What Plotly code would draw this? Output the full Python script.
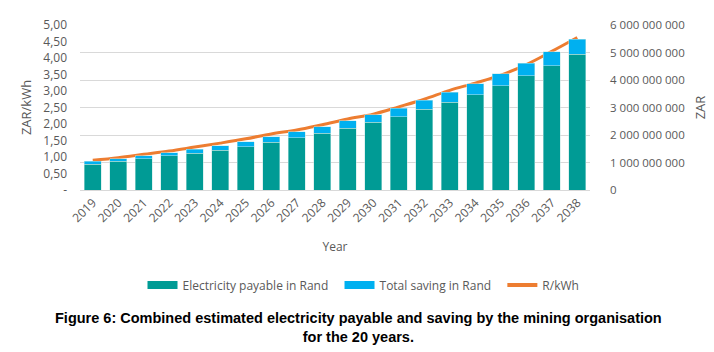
import plotly.graph_objects as go

years = [str(y) for y in range(2019, 2039)]
payable = [0.945e9, 1.05e9, 1.13e9, 1.24e9, 1.33e9, 1.45e9, 1.58e9, 1.73e9, 1.90e9, 2.06e9,
           2.25e9, 2.46e9, 2.67e9, 2.93e9, 3.19e9, 3.47e9, 3.79e9, 4.15e9, 4.52e9, 4.93e9]
total_top = [1.05e9, 1.14e9, 1.25e9, 1.36e9, 1.48e9, 1.61e9, 1.76e9, 1.93e9, 2.11e9, 2.30e9,
             2.51e9, 2.73e9, 2.98e9, 3.27e9, 3.55e9, 3.87e9, 4.22e9, 4.61e9, 5.03e9, 5.48e9]
saving = [t - p for t, p in zip(total_top, payable)]
r_per_kwh = [0.90, 0.98, 1.08, 1.18, 1.30, 1.42, 1.55, 1.70, 1.82, 1.98,
             2.15, 2.30, 2.52, 2.75, 3.02, 3.24, 3.48, 3.80, 4.20, 4.62]

left_ticks = [0, 0.5, 1.0, 1.5, 2.0, 2.5, 3.0, 3.5, 4.0, 4.5, 5.0]
left_labels = ["-", "0,50", "1,00", "1,50", "2,00", "2,50", "3,00", "3,50", "4,00", "4,50", "5,00"]
right_ticks = [0, 1e9, 2e9, 3e9, 4e9, 5e9, 6e9]
right_labels = ["0", "1 000 000 000", "2 000 000 000", "3 000 000 000",
                "4 000 000 000", "5 000 000 000", "6 000 000 000"]

GREEN = "#009B95"
BLUE = "#00B0F0"
ORANGE = "#ED7D31"
TXT = "#595959"
FONT = "Open Sans"
NB = "\u00a0\u00a0"

fig = go.Figure()
fig.add_trace(go.Bar(x=years, y=payable, name="Electricity payable in Rand", yaxis="y2",
                     showlegend=False,
                     marker=dict(color=GREEN, line=dict(color="#BFE6E4", width=0.5))))
fig.add_trace(go.Bar(x=years, y=saving, name="Total saving in Rand", yaxis="y2",
                     showlegend=False,
                     marker=dict(color=BLUE, line=dict(color="#BFE6E4", width=0.5))))
fig.add_trace(go.Scatter(x=years, y=r_per_kwh, name="R/kWh", yaxis="y", mode="lines",
                         showlegend=False,
                         line=dict(color=ORANGE, width=3, shape="spline")))
# legend entries (wide rectangular swatches as in the reference)
fig.add_trace(go.Scatter(x=[None], y=[None], name="Electricity payable in Rand" + NB, mode="lines",
                         line=dict(color=GREEN, width=8)))
fig.add_trace(go.Scatter(x=[None], y=[None], name="Total saving in Rand" + NB, mode="lines",
                         line=dict(color=BLUE, width=8)))
fig.add_trace(go.Scatter(x=[None], y=[None], name="R/kWh", mode="lines",
                         line=dict(color=ORANGE, width=4)))

fig.update_layout(
    width=714, height=352,
    margin=dict(l=72, r=132, t=17, b=170, autoexpand=False),
    paper_bgcolor="white", plot_bgcolor="white",
    barmode="stack", bargap=0.35,
    font=dict(family=FONT, size=12, color=TXT),
    xaxis=dict(tickangle=-45, showline=True, linecolor="#D9D9D9", linewidth=1,
               ticks="", tickfont=dict(size=12, color=TXT),
               title=dict(text="Year", font=dict(size=12, color=TXT), standoff=17)),
    yaxis=dict(range=[0, 5], tickvals=left_ticks, ticktext=left_labels, showgrid=False,
               zeroline=False, tickfont=dict(size=12, color=TXT), ticklabelstandoff=12,
               title=dict(text="ZAR/kWh", font=dict(size=13, color=TXT), standoff=8)),
    yaxis2=dict(range=[0, 6e9], tickvals=right_ticks, ticktext=right_labels, overlaying="y",
                side="right", showgrid=True, gridcolor="#D9D9D9", zeroline=False,
                tickfont=dict(size=11.5, color=TXT), ticklabelstandoff=19,
                title=dict(text="ZAR", font=dict(size=13, color=TXT), standoff=12)),
    legend=dict(orientation="h", x=(363.5 - 80) / 510, xanchor="center", y=-0.576, yanchor="middle",
                font=dict(size=12, color=TXT), traceorder="normal", itemwidth=30),
    annotations=[dict(text="<b>Figure 6: Combined estimated electricity payable and saving by the mining organisation<br>for the 20 years.</b>",
                      xref="paper", yref="paper", x=(358.5 - 80) / 510, y=(190 - 308) / 165,
                      xanchor="center", yanchor="top",
                      showarrow=False, align="center",
                      font=dict(family="Liberation Sans", size=14.5, color="black"))],
)

fig.write_html("out.html")
